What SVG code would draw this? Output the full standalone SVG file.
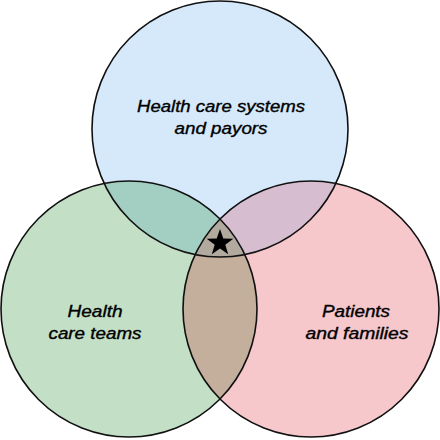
<svg xmlns="http://www.w3.org/2000/svg" width="440" height="440" viewBox="0 0 440 440">
<defs>
<style>
.c{stroke:#111;stroke-width:1.6;fill:none}
.t{font-family:"Liberation Sans",Arial,sans-serif;font-style:italic;font-size:16px;fill:#000;stroke:#000;stroke-width:0.35;text-anchor:middle}
</style>
<clipPath id="cT"><circle cx="220" cy="129" r="128"/></clipPath>
<clipPath id="cL"><circle cx="129" cy="309" r="128"/></clipPath>
<clipPath id="cR"><circle cx="311" cy="309" r="128"/></clipPath>
</defs>
<rect width="440" height="440" fill="#fff"/>
<g id="fills">
<circle cx="220" cy="129" r="128" fill="#d6e9fb"/>
<circle cx="129" cy="309" r="128" fill="#c3e0c7"/>
<circle cx="311" cy="309" r="128" fill="#f6c8cc"/>
<g clip-path="url(#cT)">
<circle cx="129" cy="309" r="128" fill="#a3cfc3"/>
<circle cx="311" cy="309" r="128" fill="#d7bdd0"/>
</g>
<g clip-path="url(#cL)">
<circle cx="311" cy="309" r="128" fill="#c4ae9c"/>
<g clip-path="url(#cT)"><circle cx="311" cy="309" r="128" fill="#b2a99f"/></g>
</g>
</g>
<g id="node-systems">
<circle class="c" cx="220" cy="129" r="128"/>
<text class="t" x="221" y="112" textLength="168" lengthAdjust="spacingAndGlyphs">Health care systems</text>
<text class="t" x="221" y="134" textLength="93" lengthAdjust="spacingAndGlyphs">and payors</text>
</g>
<g id="node-teams">
<circle class="c" cx="129" cy="309" r="128"/>
<text class="t" x="95" y="317" textLength="55" lengthAdjust="spacingAndGlyphs">Health</text>
<text class="t" x="95" y="339" textLength="93" lengthAdjust="spacingAndGlyphs">care teams</text>
</g>
<g id="node-patients">
<circle class="c" cx="311" cy="309" r="128"/>
<text class="t" x="356" y="317" textLength="68" lengthAdjust="spacingAndGlyphs">Patients</text>
<text class="t" x="357" y="339" textLength="103" lengthAdjust="spacingAndGlyphs">and families</text>
</g>
<g id="connectors"></g>
<g id="star">
<polygon fill="#000" points="220,229 223.3,238.5 233.3,238.7 225.3,244.8 228.2,254.3 220,248.6 211.8,254.3 214.7,244.8 206.7,238.7 216.7,238.5"/>
</g>
</svg>
